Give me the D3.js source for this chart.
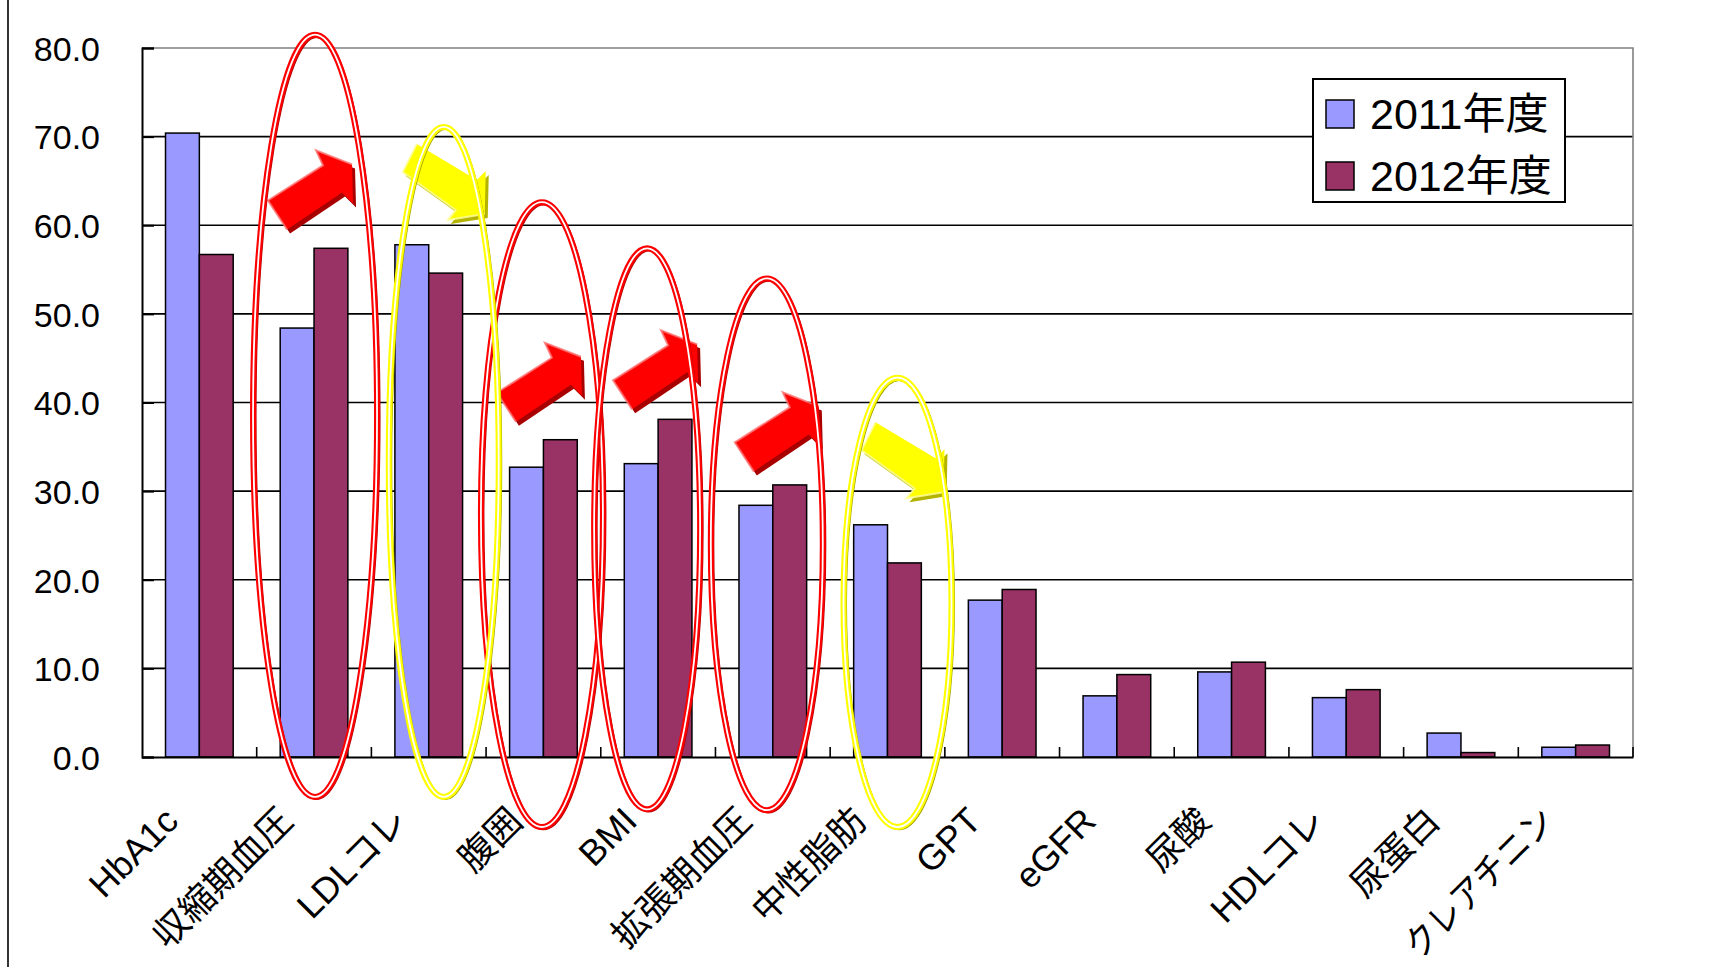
<!DOCTYPE html>
<html lang="ja">
<head>
<meta charset="utf-8">
<script src="https://cdn.jsdelivr.net/npm/d3@7"></script>
<style>
  html, body { margin: 0; padding: 0; background: #fff; }
  svg { display: block; }
  text { font-family: "Liberation Sans", "Noto Sans CJK JP", sans-serif; fill: #000; }
</style>
</head>
<body>
<svg id="chart" width="1714" height="967"></svg>
<script>
// 検査項目ごとの有所見率（%）
const categories = ["HbA1c", "収縮期血圧", "LDLコレ", "腹囲", "BMI", "拡張期血圧",
                    "中性脂肪", "GPT", "eGFR", "尿酸", "HDLコレ", "尿蛋白", "クレアチニン"];
const seriesNames = ["2011年度", "2012年度"];
const values2011 = [70.4, 48.4, 57.8, 32.7, 33.1, 28.4, 26.2, 17.7, 6.9, 9.6, 6.7, 2.7, 1.1];
const values2012 = [56.7, 57.4, 54.6, 35.8, 38.1, 30.7, 21.9, 18.9, 9.3, 10.7, 7.6, 0.5, 1.35];
const yTicks = [0, 10, 20, 30, 40, 50, 60, 70, 80];

// 強調する項目（赤: 悪化 / 黄: 改善）
const risingItems = ["収縮期血圧", "腹囲", "BMI", "拡張期血圧"];
const fallingItems = ["LDLコレ", "中性脂肪"];

const seriesColors = ["#9999FF", "#993366"];

const svg = d3.select("#chart");
const W = 1714, H = 967;
const plot = { left: 142, right: 1633, top: 48, bottom: 757 };

svg.append("rect").attr("width", W).attr("height", H).attr("fill", "#fff");
// left frame line
svg.append("line").attr("x1", 8).attr("x2", 8).attr("y1", 0).attr("y2", H)
  .attr("stroke", "#000").attr("stroke-width", 1.6);

const x0 = d3.scaleBand().domain(categories).range([plot.left, plot.right]).padding(0);
const bw = x0.bandwidth();
const x1 = d3.scaleBand().domain(seriesNames).range([bw * 0.205, bw * 0.795]).padding(0);
const y = d3.scaleLinear().domain([0, 80]).range([plot.bottom, plot.top]);

const rows = categories.map((c, i) => ({ cat: c, vals: [values2011[i], values2012[i]] }));

// horizontal grid lines
svg.append("g").selectAll("line")
  .data(yTicks.filter(t => t > 0 && t < 80))
  .join("line")
  .attr("x1", plot.left).attr("x2", plot.right)
  .attr("y1", d => y(d)).attr("y2", d => y(d))
  .attr("stroke", "#000").attr("stroke-width", 1.6);

// plot area border (top and right)
svg.append("path")
  .attr("d", `M${plot.left},${y(80)}H${plot.right}V${plot.bottom}`)
  .attr("fill", "none").attr("stroke", "#808080").attr("stroke-width", 1.6);

// bars
const groups = svg.append("g").selectAll("g")
  .data(rows).join("g")
  .attr("transform", d => `translate(${x0(d.cat)},0)`);
groups.selectAll("rect")
  .data(d => d.vals.map((v, k) => ({ v, k })))
  .join("rect")
  .attr("x", d => x1(seriesNames[d.k]))
  .attr("width", x1.bandwidth())
  .attr("y", d => y(d.v))
  .attr("height", d => y(0) - y(d.v))
  .attr("fill", d => seriesColors[d.k])
  .attr("stroke", "#000").attr("stroke-width", 1.5);

// y axis
const yAxis = svg.append("g").attr("transform", `translate(${plot.left},0)`)
  .call(d3.axisLeft(y).tickValues(yTicks).tickFormat(d => d.toFixed(1))
    .tickSize(-12).tickPadding(42));
yAxis.select(".domain").attr("stroke", "#000").attr("stroke-width", 2);
yAxis.selectAll(".tick line").attr("stroke", "#000").attr("stroke-width", 2);
yAxis.selectAll(".tick text").attr("font-size", 34).attr("dy", "0.36em")
  .attr("font-family", "Liberation Sans, sans-serif");

// x axis
const xAxis = svg.append("g").attr("transform", `translate(0,${plot.bottom})`)
  .call(d3.axisBottom(x0).tickSize(0).tickSizeOuter(0));
xAxis.select(".domain").attr("stroke", "#000").attr("stroke-width", 2.2);
xAxis.selectAll(".tick text")
  .attr("font-size", 36)
  .attr("y", 0).attr("dy", 0)
  .attr("text-anchor", "end")
  .attr("transform", "translate(-19,66) rotate(-45)")
  .each(function () {
    // long katakana labels are set narrower so they stay inside the frame
    const len = this.getComputedTextLength();
    if (len > 198) d3.select(this).attr("textLength", 194).attr("lengthAdjust", "spacingAndGlyphs");
  });
// category boundary ticks
svg.append("g").selectAll("line")
  .data(categories.slice(1).map(c => x0(c)).concat([plot.right]))
  .join("line")
  .attr("x1", d => d).attr("x2", d => d)
  .attr("y1", plot.bottom).attr("y2", plot.bottom - 10)
  .attr("stroke", "#000").attr("stroke-width", 1.6);

// legend
const legend = svg.append("g").attr("transform", "translate(1313,79)");
legend.append("rect").attr("width", 252).attr("height", 123)
  .attr("fill", "#fff").attr("stroke", "#000").attr("stroke-width", 2);
seriesNames.forEach((s, k) => {
  const row = legend.append("g").attr("transform", `translate(13,${21 + k * 62})`);
  row.append("rect").attr("width", 28).attr("height", 28)
    .attr("fill", seriesColors[k]).attr("stroke", "#000").attr("stroke-width", 1.5);
  row.append("text").attr("x", 44).attr("y", 14).attr("dy", "0.36em")
    .attr("font-size", 43).text(s);
});

// block arrows (red = rising, yellow = falling)
const riseShape = [[0, 0], [55, -35], [48, -50], [84, -36], [85, 3], [74, -8], [19, 29]];
const fallShape = [[0, 0], [53, 38], [45, 48], [82, 42], [83, -1], [74, 8], [14, -28]];
const arrowTail = {
  "収縮期血圧": [-46, 62.8], "腹囲": [-46.5, 41.1], "BMI": [-45, 42.5],
  "拡張期血圧": [-38, 35.5], "LDLコレ": [-26, 66.0], "中性脂肪": [-26, 34.6]
};
const ringGeom = {
  "収縮期血圧": { dx: 1, top: 81.5, bottom: -4.5, rx: 62 },
  "LDLコレ": { dx: 15, top: 71.1, bottom: -4.5, rx: 55 },
  "腹囲": { dx: -1.5, top: 62.6, bottom: -7.9, rx: 61 },
  "BMI": { dx: -11, top: 57.4, bottom: -5.9, rx: 53 },
  "拡張期血圧": { dx: -6, top: 54.0, bottom: -6.0, rx: 56 },
  "中性脂肪": { dx: 10, top: 42.8, bottom: -7.9, rx: 54 }
};
const center = c => x0(c) + bw / 2;

function drawArrow(item, shape, fill, shade, light) {
  const [dx, v] = arrowTail[item];
  const g = svg.append("g").attr("transform", `translate(${center(item) + dx},${y(v)})`);
  const pts = shape.map(p => p.join(",")).join(" ");
  g.append("polygon").attr("points", pts).attr("fill", shade)
    .attr("transform", "translate(3,4)");
  g.append("polygon").attr("points", pts).attr("fill", fill);
  g.append("polyline")
    .attr("points", [shape[6], shape[0], shape[1], shape[2], shape[3]].map(p => p.join(",")).join(" "))
    .attr("fill", "none").attr("stroke", light).attr("stroke-width", 2).attr("opacity", 0.8);
}
risingItems.forEach(c => drawArrow(c, riseShape, "#ff0000", "#a80000", "#ff7070"));
fallingItems.forEach(c => drawArrow(c, fallShape, "#ffff00", "#b4b400", "#ffffa0"));

// double-line rings around the highlighted items
function drawRing(item, color, shade) {
  const r = ringGeom[item];
  const cx = center(item) + r.dx;
  const cy = (y(r.top) + y(r.bottom)) / 2;
  const ry = (y(r.bottom) - y(r.top)) / 2;
  const g = svg.append("g");
  g.append("ellipse").attr("cx", cx + 1.5).attr("cy", cy + 1.2).attr("rx", r.rx).attr("ry", ry)
    .attr("fill", "none").attr("stroke", shade).attr("stroke-width", 4);
  g.append("ellipse").attr("cx", cx).attr("cy", cy).attr("rx", r.rx).attr("ry", ry)
    .attr("fill", "none").attr("stroke", color).attr("stroke-width", 6);
  g.append("ellipse").attr("cx", cx).attr("cy", cy).attr("rx", r.rx).attr("ry", ry)
    .attr("fill", "none").attr("stroke", "#fff").attr("stroke-width", 1.8);
}
risingItems.forEach(c => drawRing(c, "#ff0000", "#b00000"));
fallingItems.forEach(c => drawRing(c, "#ffff00", "#a0a000"));
</script>
</body>
</html>
